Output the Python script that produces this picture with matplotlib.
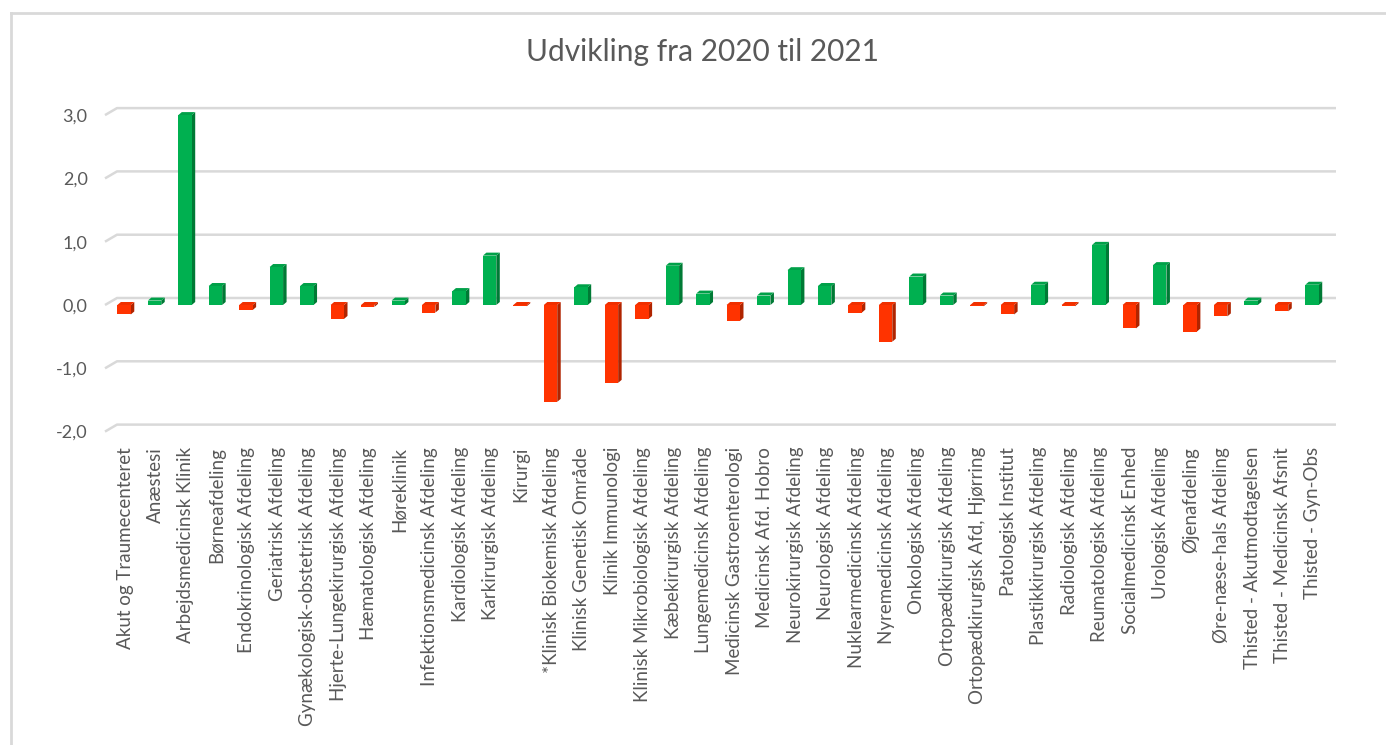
import matplotlib
matplotlib.use("Agg")
import matplotlib.pyplot as plt
from matplotlib.patches import Polygon, Rectangle
from matplotlib.lines import Line2D

categories = [
    "Akut og Traumecenteret", "Anæstesi", "Arbejdsmedicinsk Klinik", "Børneafdeling",
    "Endokrinologisk Afdeling", "Geriatrisk Afdeling", "Gynækologisk-obstetrisk Afdeling",
    "Hjerte-Lungekirurgisk Afdeling", "Hæmatologisk Afdeling", "Høreklinik",
    "Infektionsmedicinsk Afdeling", "Kardiologisk Afdeling", "Karkirurgisk Afdeling",
    "Kirurgi", "*Klinisk Biokemisk Afdeling", "Klinisk Genetisk Område",
    "Klinik Immunologi", "Klinisk Mikrobiologisk Afdeling", "Kæbekirurgisk Afdeling",
    "Lungemedicinsk Afdeling", "Medicinsk Gastroenterologi", "Medicinsk Afd. Hobro",
    "Neurokirurgisk Afdeling", "Neurologisk Afdeling", "Nuklearmedicinsk Afdeling",
    "Nyremedicinsk Afdeling", "Onkologisk Afdeling", "Ortopædkirurgisk Afdeling",
    "Ortopædkirurgisk Afd, Hjørring", "Patologisk Institut", "Plastikkirurgisk Afdeling",
    "Radiologisk Afdeling", "Reumatologisk Afdeling", "Socialmedicinsk Enhed",
    "Urologisk Afdeling", "Øjenafdeling", "Øre-næse-hals Afdeling",
    "Thisted - Akutmodtagelsen", "Thisted - Medicinsk Afsnit", "Thisted - Gyn-Obs",
]
values = [
    -0.15, 0.07, 3.00, 0.30, -0.08, 0.60, 0.30, -0.22, -0.03, 0.07,
    -0.12, 0.22, 0.78, -0.02, -1.53, 0.28, -1.23, -0.22, 0.62, 0.18,
    -0.25, 0.15, 0.55, 0.30, -0.12, -0.58, 0.45, 0.15, -0.02, -0.15,
    0.32, -0.02, 0.95, -0.37, 0.63, -0.42, -0.18, 0.07, -0.10, 0.32,
]
yticks = [-2, -1, 0, 1, 2, 3]
ytick_labels = ["-2,0", "-1,0", "0,0", "1,0", "2,0", "3,0"]
title = "Udvikling fra 2020 til 2021"

W, H = 1386, 745
fig = plt.figure(figsize=(W / 100, H / 100), dpi=100)
fig.patch.set_facecolor("white")

# axes placement in pixels
px_left, px_right, px_top, px_bottom = 105, 1336, 100, 440
ax = fig.add_axes([px_left / W, 1 - px_bottom / H, (px_right - px_left) / W, (px_bottom - px_top) / H])
ppc = 30.46   # pixels per category
ppu = 63.3    # pixels per unit
x0 = -(125 - px_left) / ppc
x1 = x0 + (px_right - px_left) / ppc
y0 = -(px_bottom - 305) / ppu
y1 = (305 - px_top) / ppu
ax.set_xlim(x0, x1)
ax.set_ylim(y0, y1)
for s in ax.spines.values():
    s.set_visible(False)

grey_text = "#595959"
grid_c = "#d9d9d9"
dxg, dyg = 12 / ppc, 7 / ppu

for v in yticks:
    ax.add_line(Line2D([x0, x0 + dxg, x1], [v, v + dyg, v + dyg], color=grid_c, lw=1.8,
                       clip_on=False, zorder=1, solid_capstyle="butt"))

bw = 13.4 / ppc
sdx, sdy = 3.5 / ppc, 3.0 / ppu
green_f, green_s, green_t = "#00B050", "#007A35", "#00A048"
red_f, red_s, red_t = "#FF3300", "#B02400", "#F03000"

for i, v in enumerate(values):
    xl = i - bw / 2 - 0.03
    xr = xl + bw
    if v >= 0:
        f, sc, tc = green_f, green_s, green_t
    else:
        f, sc, tc = red_f, red_s, red_t
    lo, hi = min(0, v), max(0, v)
    # side face
    ax.add_patch(Polygon([(xr, lo), (xr + sdx, lo + sdy), (xr + sdx, hi + sdy), (xr, hi)],
                         closed=True, facecolor=sc, edgecolor="none", zorder=3))
    # top face
    ax.add_patch(Polygon([(xl, hi), (xl + sdx, hi + sdy), (xr + sdx, hi + sdy), (xr, hi)],
                         closed=True, facecolor=tc, edgecolor="none", zorder=3))
    # front face
    ax.add_patch(Rectangle((xl, lo), bw, hi - lo, facecolor=f, edgecolor="none", zorder=4))

ax.set_yticks(yticks)
ax.set_yticklabels(ytick_labels)
ax.set_xticks(range(len(categories)))
ax.set_xticklabels(categories, rotation=90, ha="center", va="top")
ax.tick_params(axis="both", length=0, colors=grey_text)
ax.tick_params(axis="y", pad=12.5, labelsize=13)
ax.tick_params(axis="x", pad=5, labelsize=13.5)
for lab in ax.get_xticklabels() + ax.get_yticklabels():
    lab.set_fontfamily("Lato")
    lab.set_color(grey_text)

fig.text(703 / W, 1 - 52 / H, title, ha="center", va="center", fontsize=21.5,
         family="Lato", color=grey_text)

# chart border
fig.add_artist(Line2D([11 / W, 11 / W], [0, 1 - 13 / H], transform=fig.transFigure, color=grid_c, lw=2))
fig.add_artist(Line2D([11 / W, 1], [1 - 13 / H, 1 - 13 / H], transform=fig.transFigure, color=grid_c, lw=2))

fig.savefig("out.png", dpi=100)
